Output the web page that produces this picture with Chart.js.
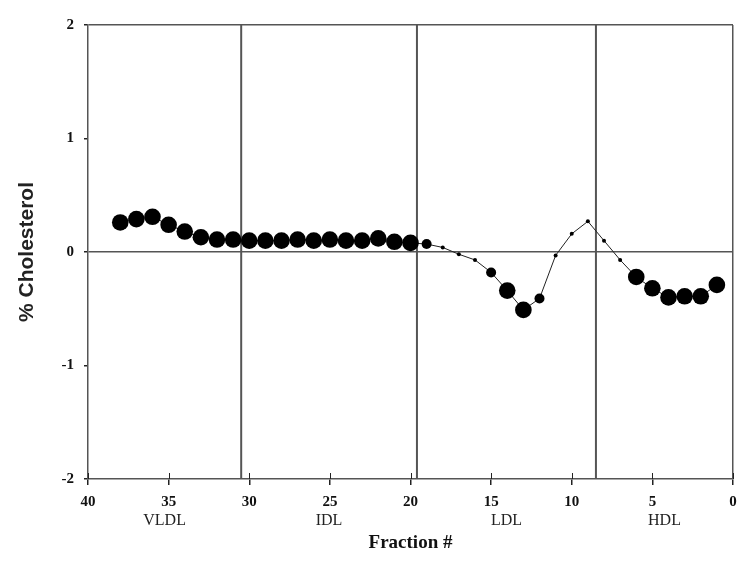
<!DOCTYPE html>
<html>
<head>
<meta charset="utf-8">
<script src="https://cdn.jsdelivr.net/npm/chart.js@4/dist/chart.umd.min.js"></script>
<style>
  html, body { margin: 0; padding: 0; background: #fff; }
  #wrap { width: 750px; height: 567px; }
</style>
</head>
<body>
<div id="wrap"><canvas id="cholChart" width="750" height="567"></canvas></div>
<script>
// fractions (x) and % cholesterol difference (y)
const fractions = [38, 37, 36, 35, 34, 33, 32, 31, 30, 29, 28, 27, 26, 25, 24, 23, 22, 21, 20,
  19, 18, 17, 16, 15, 14, 13, 12, 11, 10, 9, 8, 7, 6, 5, 4, 3, 2, 1];
const cholesterol = [0.26, 0.29, 0.31, 0.24, 0.18, 0.13, 0.11, 0.11, 0.10, 0.10, 0.10, 0.11, 0.10, 0.11, 0.10, 0.10, 0.12, 0.09, 0.08,
  0.07, 0.04, -0.02, -0.07, -0.18, -0.34, -0.51, -0.41, -0.03, 0.16, 0.27, 0.10, -0.07, -0.22, -0.32, -0.40, -0.39, -0.39, -0.29];
// marker class per point: 2 = large dot, 1 = medium, 0 = small
const significance = [2, 2, 2, 2, 2, 2, 2, 2, 2, 2, 2, 2, 2, 2, 2, 2, 2, 2, 2,
  1, 0, 0, 0, 1, 2, 2, 1, 0, 0, 0, 0, 0, 2, 2, 2, 2, 2, 2];

// lipoprotein classes and the fraction edges between them
const classNames = ['VLDL', 'IDL', 'LDL', 'HDL'];
const classEdges = [40, 30.5, 19.6, 8.5, 0];

const xTicks = [40, 35, 30, 25, 20, 15, 10, 5, 0];
const yTicks = [-2, -1, 0, 1, 2];

const dotRadius = [2, 5, 8.3];
const lineGray = '#555';

const ctx = document.getElementById('cholChart').getContext('2d');

// vertical separators between classes (inner edges only)
const separators = classEdges.slice(1, -1).map(edge => ({
  data: [{ x: edge, y: yTicks[0] }, { x: edge, y: yTicks[yTicks.length - 1] }],
  borderColor: lineGray,
  borderWidth: 2,
  pointRadius: 0,
  fill: false,
}));

// class labels under the tick labels + inner half of the x tick marks
const classLabels = {
  id: 'classLabels',
  afterDraw(chart) {
    const xs = chart.scales.x;
    const c = chart.ctx;
    const bottom = chart.chartArea.bottom;
    c.save();
    c.strokeStyle = '#222';
    c.lineWidth = 1;
    xTicks.forEach(v => {
      const px = Math.round(xs.getPixelForValue(v)) + 0.5;
      c.beginPath();
      c.moveTo(px, bottom - 6);
      c.lineTo(px, bottom);
      c.stroke();
    });
    c.font = '16px "Liberation Serif"';
    c.fillStyle = '#222';
    c.textAlign = 'center';
    c.textBaseline = 'middle';
    classNames.forEach((name, i) => {
      const mid = (classEdges[i] + classEdges[i + 1]) / 2;
      c.fillText(name, xs.getPixelForValue(mid), bottom + 42);
    });
    c.restore();
  },
};

new Chart(ctx, {
  type: 'line',
  data: {
    datasets: [
      {
        data: fractions.map((f, i) => ({ x: f, y: cholesterol[i] })),
        borderColor: '#222',
        borderWidth: 1,
        pointRadius: significance.map(s => dotRadius[s]),
        pointBackgroundColor: '#000',
        pointBorderColor: '#000',
        pointBorderWidth: 0,
        tension: 0,
        fill: false,
      },
      ...separators,
    ],
  },
  options: {
    responsive: false,
    animation: false,
    layout: { padding: { left: 0, right: 17, top: 25, bottom: 0 } },
    plugins: {
      legend: { display: false },
      tooltip: { enabled: false },
    },
    scales: {
      x: {
        type: 'linear',
        reverse: true,
        min: 0,
        max: 40,
        afterBuildTicks: (scale) => { scale.ticks = xTicks.map(v => ({ value: v })); },
        afterFit: (scale) => { scale.height = 88; },
        grid: {
          color: (c) => (c.tick && c.tick.value === 0 ? lineGray : 'transparent'),
          lineWidth: 1.5,
          tickColor: '#222',
          tickLength: 6,
        },
        border: { display: true, color: lineGray, width: 1.5 },
        ticks: {
          color: '#111',
          padding: 8,
          maxRotation: 0,
          font: { family: '"Liberation Serif"', size: 15, weight: 'bold' },
        },
        title: {
          display: true,
          text: 'Fraction #',
          color: '#111',
          padding: { top: 0, bottom: 13 },
          font: { family: '"Liberation Serif"', size: 19, weight: 'bold' },
        },
      },
      y: {
        min: -2,
        max: 2,
        afterBuildTicks: (scale) => { scale.ticks = yTicks.map(v => ({ value: v })); },
        afterFit: (scale) => { scale.width = 88; },
        grid: {
          color: (c) => (c.tick && (c.tick.value === 0 || c.tick.value === 2) ? lineGray : 'transparent'),
          lineWidth: 1.5,
          tickColor: '#222',
          tickLength: 4,
        },
        border: { display: true, color: lineGray, width: 1.5 },
        ticks: {
          color: '#111',
          padding: 10,
          font: { family: '"Liberation Serif"', size: 15, weight: 'bold' },
        },
        title: {
          display: true,
          text: '% Cholesterol',
          color: '#222',
          padding: { top: 15, bottom: 0 },
          font: { family: '"Liberation Sans"', size: 21, weight: 'bold' },
        },
      },
    },
  },
  plugins: [classLabels],
});
</script>
</body>
</html>
